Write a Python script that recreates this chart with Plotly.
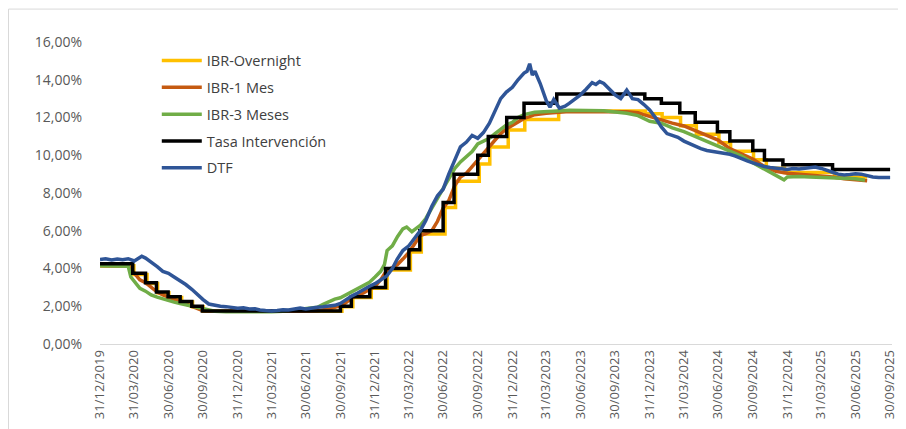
import plotly.graph_objects as go

# Tasa de intervención (step series, date of change -> level, % EA)
tasa_dates = ["2019-12-31", "2020-03-27", "2020-04-30", "2020-05-29", "2020-06-29",
              "2020-07-31", "2020-08-31", "2020-09-28", "2021-09-30", "2021-10-29",
              "2021-12-17", "2022-01-28", "2022-03-31", "2022-04-29", "2022-06-30",
              "2022-07-29", "2022-09-30", "2022-10-28", "2022-12-16", "2023-01-31",
              "2023-04-28", "2023-12-18", "2024-01-31", "2024-03-20", "2024-04-30",
              "2024-06-28", "2024-07-31", "2024-09-30", "2024-10-31", "2024-12-19",
              "2025-04-30", "2025-09-30"]
tasa_vals = [4.25, 3.75, 3.25, 2.75, 2.50, 2.25, 2.00, 1.75, 2.00, 2.50,
             3.00, 4.00, 5.00, 6.00, 7.50, 9.00, 10.00, 11.00, 12.00, 12.75,
             13.25, 13.00, 12.75, 12.25, 11.75, 11.25, 10.75, 10.25, 9.75, 9.50,
             9.25, 9.25]

# IBR overnight (nominal, steps)
on_dates = ["2019-12-31", "2020-03-30", "2020-05-04", "2020-06-01", "2020-07-01",
            "2020-08-04", "2020-09-02", "2020-09-30", "2021-10-04", "2021-11-02",
            "2021-12-21", "2022-02-01", "2022-04-04", "2022-05-03", "2022-07-05",
            "2022-08-02", "2022-10-04", "2022-11-01", "2022-12-20", "2023-02-02",
            "2023-05-03", "2023-12-20", "2024-02-02", "2024-03-22", "2024-05-03",
            "2024-07-02", "2024-08-02", "2024-10-02", "2024-11-05", "2024-12-23",
            "2025-05-05", "2025-07-31"]
on_vals = [4.15, 3.68, 3.20, 2.71, 2.47, 2.23, 1.98, 1.73, 1.98, 2.47,
           2.96, 3.92, 4.88, 5.83, 7.23, 8.62, 9.53, 10.44, 11.34, 11.90,
           12.35, 12.20, 12.00, 11.56, 11.11, 10.66, 10.21, 9.76, 9.31, 9.08,
           8.85, 8.85]

# IBR 1 mes
m1_dates = ["2019-12-31", "2020-03-15", "2020-03-25", "2020-03-31", "2020-04-15", "2020-04-30",
            "2020-05-15", "2020-05-31", "2020-06-15", "2020-06-30", "2020-07-15", "2020-07-31",
            "2020-08-15", "2020-08-31", "2020-09-15", "2020-09-30", "2020-10-31", "2020-12-31",
            "2021-03-31", "2021-06-30", "2021-07-31", "2021-08-31", "2021-09-15", "2021-09-30",
            "2021-10-15", "2021-10-31", "2021-11-15", "2021-11-30", "2021-12-15", "2021-12-31",
            "2022-01-15", "2022-01-31", "2022-02-15", "2022-02-28", "2022-03-15", "2022-03-31",
            "2022-04-15", "2022-04-30", "2022-05-15", "2022-05-31", "2022-06-15", "2022-06-30",
            "2022-07-15", "2022-07-31", "2022-08-15", "2022-08-31", "2022-09-15", "2022-09-30",
            "2022-10-15", "2022-10-31", "2022-11-15", "2022-11-30", "2022-12-15", "2022-12-31",
            "2023-01-15", "2023-01-31", "2023-02-15", "2023-02-28", "2023-03-31", "2023-04-30",
            "2023-05-31", "2023-10-31", "2023-11-30", "2023-12-15", "2023-12-31", "2024-01-31",
            "2024-02-29", "2024-03-31", "2024-04-30", "2024-05-31", "2024-06-30", "2024-07-31",
            "2024-08-31", "2024-09-30", "2024-10-31", "2024-11-30", "2024-12-31", "2025-01-31",
            "2025-02-28", "2025-03-31", "2025-04-30", "2025-05-31", "2025-06-30", "2025-07-31"]
m1_vals = [4.15, 4.12, 3.90, 3.75, 3.40, 3.25,
           3.00, 2.75, 2.60, 2.48, 2.36, 2.25,
           2.12, 2.00, 1.88, 1.76, 1.73, 1.72,
           1.72, 1.73, 1.76, 1.85, 1.95, 2.02,
           2.20, 2.45, 2.58, 2.70, 2.88, 3.05,
           3.40, 3.90, 4.05, 4.20, 4.50, 4.85,
           5.30, 5.75, 5.85, 6.00, 6.50, 7.20,
           7.60, 8.40, 8.85, 9.05, 9.40, 9.75,
           10.10, 10.45, 10.85, 11.15, 11.40, 11.60,
           11.80, 11.95, 12.05, 12.15, 12.22, 12.28,
           12.32, 12.30, 12.25, 12.15, 12.05, 11.90,
           11.70, 11.55, 11.30, 11.05, 10.80, 10.35,
           10.05, 9.80, 9.40, 9.15, 9.05, 9.00,
           8.95, 8.90, 8.85, 8.75, 8.70, 8.65]

# IBR 3 meses
m3_dates = ["2019-12-31", "2020-02-29", "2020-03-15", "2020-03-22", "2020-03-31", "2020-04-15",
            "2020-04-30", "2020-05-15", "2020-05-31", "2020-06-15", "2020-06-30", "2020-07-15",
            "2020-07-31", "2020-08-15", "2020-08-31", "2020-09-15", "2020-09-30", "2020-10-15",
            "2020-10-31", "2020-11-30", "2020-12-31", "2021-01-31", "2021-02-28", "2021-03-31",
            "2021-04-30", "2021-05-31", "2021-06-30", "2021-07-31", "2021-08-15", "2021-08-31",
            "2021-09-15", "2021-09-30", "2021-10-15", "2021-10-31", "2021-11-15", "2021-11-30",
            "2021-12-15", "2021-12-31", "2022-01-15", "2022-01-25", "2022-02-01", "2022-02-15",
            "2022-03-01", "2022-03-15", "2022-03-25", "2022-04-08", "2022-04-20", "2022-05-01",
            "2022-05-15", "2022-05-31", "2022-06-15", "2022-06-30", "2022-07-15", "2022-07-31",
            "2022-08-15", "2022-08-31", "2022-09-15", "2022-09-30", "2022-10-15", "2022-10-31",
            "2022-11-15", "2022-11-30", "2022-12-15", "2022-12-31", "2023-01-15", "2023-01-31",
            "2023-02-15", "2023-02-28", "2023-04-30", "2023-05-31", "2023-08-31", "2023-09-30",
            "2023-10-31", "2023-11-30", "2023-12-15", "2023-12-31", "2024-01-31", "2024-02-29",
            "2024-03-31", "2024-04-30", "2024-05-31", "2024-06-30", "2024-07-31", "2024-08-31",
            "2024-09-30", "2024-10-31", "2024-11-30", "2024-12-15", "2024-12-22", "2024-12-31",
            "2025-01-31", "2025-02-28", "2025-03-31", "2025-04-30", "2025-05-31", "2025-06-30",
            "2025-07-25"]
m3_vals = [4.15, 4.15, 4.12, 3.55, 3.35, 2.95,
           2.80, 2.60, 2.48, 2.38, 2.30, 2.22,
           2.15, 2.08, 2.00, 1.93, 1.85, 1.78,
           1.74, 1.71, 1.70, 1.69, 1.70, 1.71,
           1.74, 1.80, 1.88, 1.95, 2.10, 2.25,
           2.38, 2.45, 2.60, 2.80, 2.95, 3.10,
           3.25, 3.55, 3.85, 4.20, 4.95, 5.20,
           5.70, 6.10, 6.20, 5.95, 6.15, 6.30,
           6.65, 7.20, 7.80, 8.30, 8.80, 9.30,
           9.65, 9.95, 10.20, 10.60, 10.75, 10.90,
           11.15, 11.40, 11.60, 11.75, 12.00, 12.15,
           12.22, 12.28, 12.35, 12.38, 12.36, 12.30,
           12.22, 12.10, 11.95, 11.80, 11.70, 11.45,
           11.25, 11.00, 10.75, 10.50, 10.20, 9.95,
           9.60, 9.25, 8.90, 8.75, 8.70, 8.85,
           8.88, 8.85, 8.83, 8.82, 8.80, 8.75,
           8.68]

# DTF
dtf_dates = ["2019-12-31", "2020-01-15", "2020-01-31", "2020-02-15", "2020-02-29", "2020-03-15",
             "2020-03-31", "2020-04-10", "2020-04-20", "2020-04-30", "2020-05-15", "2020-05-31",
             "2020-06-15", "2020-06-30", "2020-07-15", "2020-07-31", "2020-08-15", "2020-08-31",
             "2020-09-15", "2020-09-30", "2020-10-15", "2020-10-31", "2020-11-15", "2020-11-30",
             "2020-12-15", "2020-12-31", "2021-01-15", "2021-01-31", "2021-02-15", "2021-02-28",
             "2021-03-15", "2021-03-31", "2021-04-15", "2021-04-30", "2021-05-15", "2021-05-31",
             "2021-06-15", "2021-06-30", "2021-07-15", "2021-07-31", "2021-08-15", "2021-08-31",
             "2021-09-15", "2021-09-30", "2021-10-15", "2021-10-31", "2021-11-15", "2021-11-30",
             "2021-12-15", "2021-12-31", "2022-01-15", "2022-01-31", "2022-02-15", "2022-02-28",
             "2022-03-15", "2022-03-31", "2022-04-15", "2022-04-30", "2022-05-15", "2022-05-31",
             "2022-06-15", "2022-06-30", "2022-07-15", "2022-07-31", "2022-08-15", "2022-08-31",
             "2022-09-15", "2022-09-30", "2022-10-15", "2022-10-31", "2022-11-15", "2022-11-30",
             "2022-12-15", "2022-12-31", "2023-01-15", "2023-01-31", "2023-02-08", "2023-02-15",
             "2023-02-22", "2023-03-01", "2023-03-15", "2023-03-31", "2023-04-10", "2023-04-20",
             "2023-05-05", "2023-05-20", "2023-05-31", "2023-06-15", "2023-06-30", "2023-07-15",
             "2023-07-31", "2023-08-10", "2023-08-20", "2023-08-31", "2023-09-15", "2023-09-30",
             "2023-10-15", "2023-10-31", "2023-11-15", "2023-11-30", "2023-12-15", "2023-12-31",
             "2024-01-15", "2024-01-31", "2024-02-15", "2024-02-29", "2024-03-15", "2024-03-31",
             "2024-04-15", "2024-04-30", "2024-05-15", "2024-05-31", "2024-06-15", "2024-06-30",
             "2024-07-15", "2024-07-31", "2024-08-15", "2024-08-31", "2024-09-15", "2024-09-30",
             "2024-10-15", "2024-10-31", "2024-11-15", "2024-11-30", "2024-12-15", "2024-12-31",
             "2025-01-15", "2025-01-31", "2025-02-15", "2025-02-28", "2025-03-15", "2025-03-31",
             "2025-04-15", "2025-04-30", "2025-05-15", "2025-05-31", "2025-06-15", "2025-06-30",
             "2025-07-15", "2025-07-31", "2025-08-15", "2025-08-31", "2025-09-15", "2025-09-30"]
dtf_vals = [4.48, 4.52, 4.45, 4.50, 4.47, 4.52,
            4.40, 4.55, 4.65, 4.55, 4.35, 4.10,
            3.85, 3.75, 3.55, 3.35, 3.15, 2.90,
            2.60, 2.35, 2.12, 2.05, 2.00, 1.98,
            1.95, 1.90, 1.92, 1.85, 1.87, 1.80,
            1.77, 1.75, 1.78, 1.82, 1.80, 1.85,
            1.90, 1.86, 1.92, 1.95, 1.97, 2.02,
            2.05, 2.15, 2.35, 2.55, 2.70, 2.90,
            3.05, 3.20, 3.40, 3.60, 4.00, 4.50,
            4.95, 5.20, 5.60, 6.00, 6.55, 7.30,
            7.85, 8.20, 9.00, 9.80, 10.45, 10.70,
            11.05, 10.90, 11.20, 11.70, 12.40, 13.00,
            13.35, 13.60, 14.00, 14.35, 14.45, 14.85,
            14.25, 14.45, 13.80, 12.90, 12.55, 12.95,
            12.50, 12.60, 12.75, 12.95, 13.20, 13.50,
            13.85, 13.75, 13.90, 13.80, 13.50, 13.20,
            13.00, 13.45, 13.00, 12.95, 12.70, 12.40,
            12.00, 11.50, 11.15, 11.05, 10.95, 10.75,
            10.60, 10.45, 10.35, 10.25, 10.20, 10.15,
            10.10, 10.05, 9.95, 9.80, 9.70, 9.60,
            9.50, 9.40, 9.35, 9.30, 9.28, 9.25,
            9.30, 9.27, 9.32, 9.35, 9.38, 9.30,
            9.22, 9.10, 9.00, 8.95, 8.98, 9.02,
            9.00, 8.90, 8.85, 8.82, 8.80, 8.82]

tick_dates = ["2019-12-31", "2020-03-31", "2020-06-30", "2020-09-30", "2020-12-31",
              "2021-03-31", "2021-06-30", "2021-09-30", "2021-12-31", "2022-03-31",
              "2022-06-30", "2022-09-30", "2022-12-31", "2023-03-31", "2023-06-30",
              "2023-09-30", "2023-12-31", "2024-03-31", "2024-06-30", "2024-09-30",
              "2024-12-31", "2025-03-31", "2025-06-30", "2025-09-30"]
y_ticks = [0, 2, 4, 6, 8, 10, 12, 14, 16]
y_labels = ["0,00%", "2,00%", "4,00%", "6,00%", "8,00%", "10,00%", "12,00%", "14,00%", "16,00%"]

series = [
    ("IBR-Overnight", on_dates, on_vals, "#FFC000", "hv"),
    ("IBR-1 Mes", m1_dates, m1_vals, "#C55A11", "linear"),
    ("IBR-3 Meses", m3_dates, m3_vals, "#70AD47", "linear"),
    ("Tasa Intervención", tasa_dates, tasa_vals, "#000000", "hv"),
    ("DTF", dtf_dates, dtf_vals, "#2F5597", "linear"),
]

fig = go.Figure()
for name, xs, ys, color, shape in series:
    fig.add_trace(go.Scatter(x=xs, y=ys, mode="lines", name=name, legendgroup=name,
                             line=dict(color=color, width=3.5, shape=shape)))

# the page body adds an 8px offset, margins compensate for it
fig.update_layout(
    width=906, height=429,
    margin=dict(l=92, r=22, t=34, b=93),
    paper_bgcolor="white", plot_bgcolor="white",
    font=dict(family="Open Sans", size=13, color="#595959"),
    showlegend=True,
    legend=dict(x=0.0717, y=0.9917, xanchor="left", yanchor="top",
                font=dict(size=14.5, color="#404040"), tracegroupgap=5,
                bgcolor="rgba(0,0,0,0)", itemwidth=40),
)
fig.update_xaxes(type="date", range=["2019-12-31", "2025-10-05"],
                 tickvals=tick_dates, tickformat="%d/%m/%Y", tickangle=-90,
                 showgrid=False, showline=True, linecolor="#D9D9D9", linewidth=1,
                 ticks="", zeroline=False)
fig.update_yaxes(range=[0, 16], tickvals=y_ticks, ticktext=y_labels,
                 tickfont=dict(size=14),
                 showgrid=False, zeroline=False, showline=False, ticks="",
                 ticklabelstandoff=17)

# chart frame
fig.add_shape(type="rect", xref="paper", yref="paper",
              x0=-0.1155, x1=1.05, y0=-0.4, y1=1.109,
              line=dict(color="#D9D9D9", width=1), fillcolor="rgba(0,0,0,0)", layer="below")

fig.write_html("out.html")
